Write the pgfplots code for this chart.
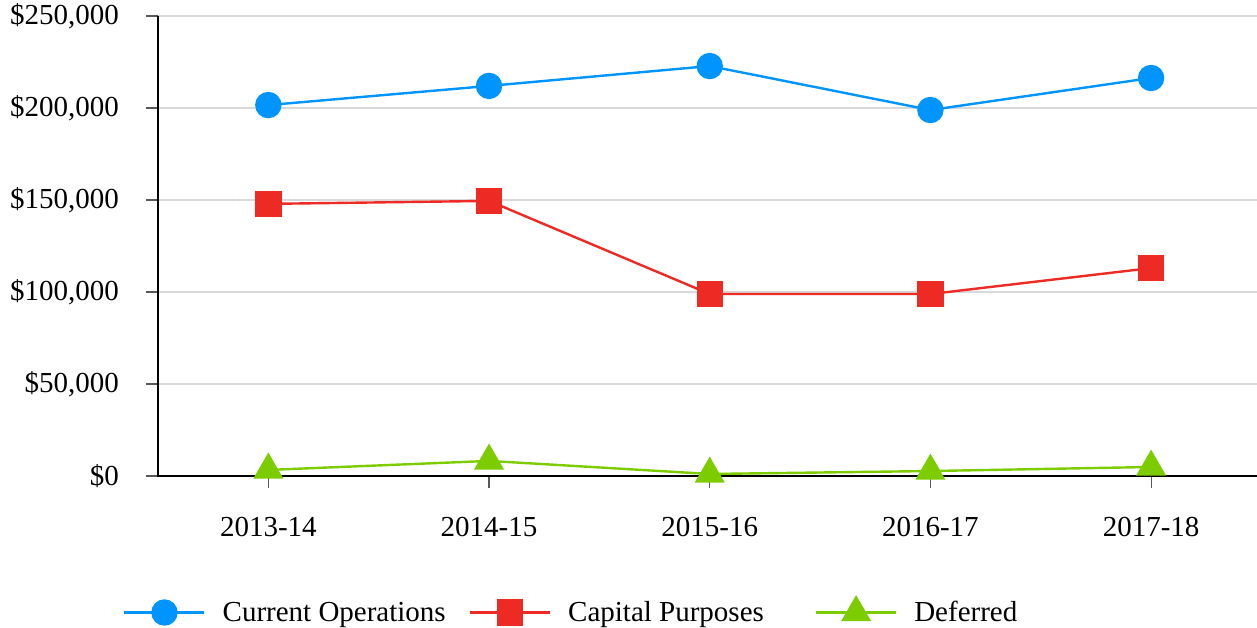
\documentclass[border=0pt]{standalone}
\usepackage{fontspec}
\setmainfont{Liberation Serif}
\usepackage{pgfplots}
\pgfplotsset{compat=1.18}
\definecolor{cblue}{HTML}{0094FF}
\definecolor{cred}{HTML}{EE2A24}
\definecolor{cgreen}{HTML}{7DCC00}
\begin{document}
\begin{tikzpicture}
\path[use as bounding box] (0,0) rectangle (1257pt,627pt);
\begin{axis}[
  at={(158pt,151pt)}, anchor=south west,
  scale only axis, width=1099pt, height=460pt,
  xmin=-0.5, xmax=4.48, ymin=0, ymax=250000,
  clip=false,
  axis x line=bottom, axis y line=left,
  axis line style={-, black},
  x axis line style={line width=2.6pt},
  y axis line style={line width=2.6pt},
  xtick={0,1,2,3,4},
  xticklabels={2013-14,2014-15,2015-16,2016-17,2017-18},
  ytick={0,50000,100000,150000,200000,250000},
  yticklabels={{\$0},{\$50,000},{\$100,000},{\$150,000},{\$200,000},{\$250,000}},
  scaled y ticks=false,
  tick align=outside, major tick length=12pt,
  tick style={gray!70!black, line width=1.2pt},
  ymajorgrids, grid style={gray!30, line width=1.2pt},
  tick label style={font=\fontsize{29}{34}\selectfont},
  yticklabel style={anchor=east, inner sep=0pt, xshift=-27pt},
  xticklabel style={anchor=north, inner sep=0pt, yshift=-29pt},
  legend style={at={(-0.0345,-0.2935)}, anchor=west, draw=none, fill=none,
    legend columns=3, column sep=0pt, nodes={inner sep=0pt},
    font=\fontsize{29}{34}\selectfont},
  legend cell align=left,
  legend image code/.code={\draw[mark repeat=2,mark phase=2,#1] plot coordinates {(0pt,0pt) (40pt,0pt) (80pt,0pt)};},
]
\draw[black, line width=2.6pt] (rel axis cs:0,1) -- (rel axis cs:0,0) -- (rel axis cs:1,0);
\addplot[cblue, line width=2.4pt, mark=*, mark size=12pt, mark options={solid, fill=cblue, draw=cblue}]
  coordinates {(0,201600) (1,212000) (2,222800) (3,198900) (4,216300)};
\addlegendentry{\kern17pt Current Operations\rule{23pt}{0pt}}
\addplot[cred, line width=2.4pt, mark=square*, mark size=12pt, mark options={solid, fill=cred, draw=cred}]
  coordinates {(0,147900) (1,149500) (2,98900) (3,98900) (4,113000)};
\addlegendentry{\kern17pt Capital Purposes\rule{51pt}{0pt}}
\addplot[cgreen, line width=2.4pt, mark=triangle*, mark size=15pt, mark options={solid, fill=cgreen, draw=cgreen}]
  coordinates {(0,3300) (1,8200) (2,1100) (3,2700) (4,4900)};
\addlegendentry{\kern17pt Deferred}
\end{axis}
\end{tikzpicture}
\end{document}
